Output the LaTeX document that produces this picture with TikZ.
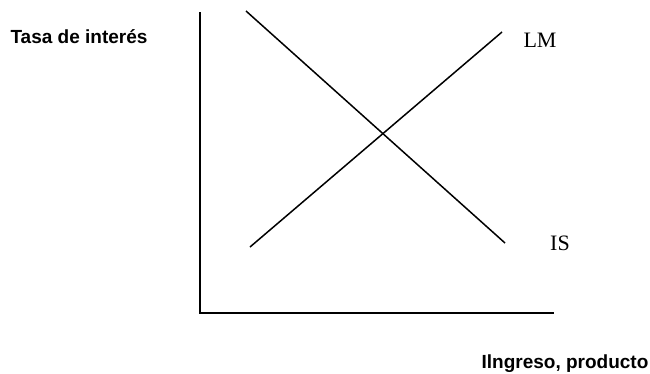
\documentclass[tikz,border=0pt]{standalone}
\usepackage{fontspec}
\setmainfont{Liberation Serif}
\newfontfamily\axisfont{Liberation Sans}
\usepackage{tikz}

\begin{document}
\begin{tikzpicture}[x=1pt,y=-1pt]
    \useasboundingbox (0,0) rectangle (650,373);
    \coordinate (origin) at (200,313);
    \coordinate (ytop) at (200,12);
    \coordinate (xend) at (554,313);
    \coordinate (is0) at (246,11);
    \coordinate (is1) at (505,243);
    \coordinate (lm0) at (250,247);
    \coordinate (lm1) at (502,32);
      \draw[line width=1.7pt] (ytop)--(origin)--(xend);
      \draw[line width=1.5pt] (is0)--(is1);
      \draw[line width=1.5pt] (lm0)--(lm1);
      \node[font=\axisfont\bfseries\fontsize{19}{19}\selectfont] (rate) at (79,37) {Tasa de interés};
      \node[font=\axisfont\bfseries\fontsize{19}{19}\selectfont] (income) at (565,364) {Ilngreso, producto};
      \node[font=\fontsize{22}{22}\selectfont] (lm) at (540,40) {LM};
      \node[font=\fontsize{22}{22}\selectfont] (is) at (560,243) {IS};
\end{tikzpicture}
\end{document}
